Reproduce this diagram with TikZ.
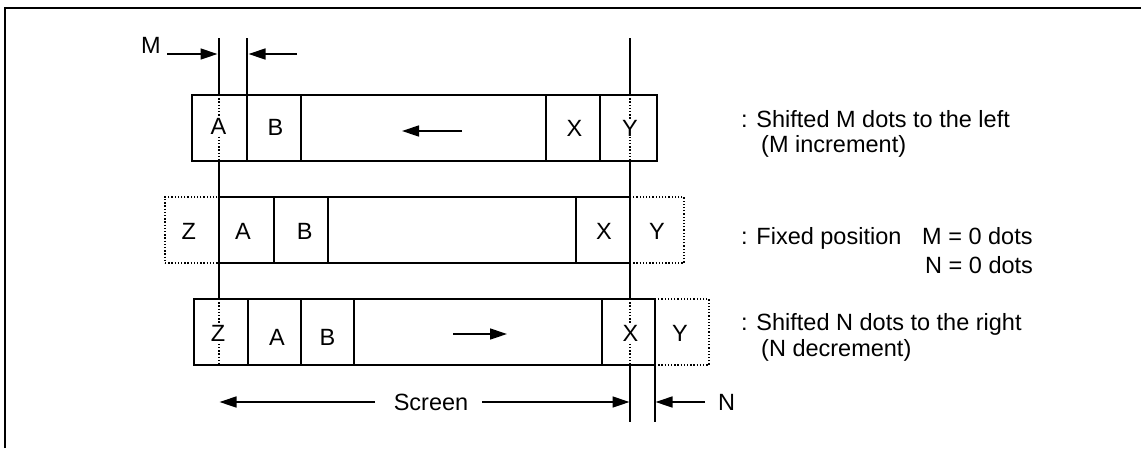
\documentclass[tikz,border=0pt]{standalone}
\usepackage{fontspec}
\setmainfont{Liberation Sans}
\usetikzlibrary{arrows.meta}
\begin{document}
\begin{tikzpicture}[x=1pt,y=-1pt,
  ln/.style={line width=1.4pt},
  dotl/.style={line width=1.3pt, dash pattern=on 1.3pt off 1.9pt},
  cell/.style={draw, line width=1.4pt, inner sep=0pt, minimum height=66pt},
  dcell/.style={cell, dotl},
  lbl/.style={font=\fontsize{23.5}{28}\selectfont, inner sep=0.6pt, fill=white},
  txt/.style={font=\fontsize{23.5}{28}\selectfont, inner sep=0pt, anchor=base west},
  arr/.style={ln, -{Triangle[length=17pt,width=11pt]}}]
\useasboundingbox (0,0) rectangle (1141,448);
% frame
\draw[line width=1.8pt] (5,448) -- (5,8) -- (1141,8);
% row 1
\node[cell, minimum width=55pt]  (r1a) at (219.5,128) {};
\node[cell, minimum width=54pt]  (r1b) at (274,128) {};
\node[cell, minimum width=245pt] (r1m) at (423.5,128) {};
\node[cell, minimum width=54pt]  (r1x) at (573,128) {};
\node[cell, minimum width=57pt]  (r1y) at (628.5,128) {};
% row 2
\node[dcell, minimum width=54pt] (r2z) at (192,230) {};
\node[cell, minimum width=55pt]  (r2a) at (246.5,230) {};
\node[cell, minimum width=54pt]  (r2b) at (301,230) {};
\node[cell, minimum width=248pt] (r2m) at (452,230) {};
\node[cell, minimum width=54pt]  (r2x) at (603,230) {};
\node[dcell, minimum width=54pt] (r2y) at (657,230) {};
% row 3
\node[cell, minimum width=54pt]  (r3z) at (221,332) {};
\node[cell, minimum width=53pt]  (r3a) at (274.5,332) {};
\node[cell, minimum width=53pt]  (r3b) at (327.5,332) {};
\node[cell, minimum width=248pt] (r3m) at (478,332) {};
\node[cell, minimum width=53pt]  (r3x) at (628.5,332) {};
\node[dcell, minimum width=54pt] (r3y) at (682,332) {};
% vertical reference lines
\coordinate (lt) at (219,38);
\coordinate (mt) at (247,38);
\coordinate (rt) at (630,38);
\coordinate (rb) at (630,422);
\coordinate (nb) at (655,422);
\draw[ln] (lt) -- (219,95);
\draw[dotl] (219,95) -- (219,161);
\draw[ln] (219,161) -- (219,299);
\draw[dotl] (219,299) -- (219,365);
\draw[ln] (mt) -- (247,95);
\draw[ln] (rt) -- (630,95);
\draw[dotl] (630,95) -- (630,161);
\draw[ln] (630,161) -- (630,299);
\draw[dotl] (630,299) -- (630,365);
\draw[ln] (630,365) -- (rb);
\draw[ln] (655,365) -- (nb);
% letters
\node[lbl] (l1a) at (218.5,126) {A};
\node[lbl] (l1b) at (275.5,127) {B};
\node[lbl] (l1x) at (574.5,128.5) {X};
\node[lbl] (l1y) at (630,128.5) {Y};
\node[lbl] (l2z) at (188.7,231.5) {Z};
\node[lbl] (l2a) at (243,231.5) {A};
\node[lbl] (l2b) at (304.6,231.5) {B};
\node[lbl] (l2x) at (604,231.5) {X};
\node[lbl] (l2y) at (657,231.5) {Y};
\node[lbl] (l3z) at (218,333) {Z};
\node[lbl] (l3a) at (277,337) {A};
\node[lbl] (l3b) at (327.5,337) {B};
\node[lbl] (l3x) at (630.5,333.5) {X};
\node[lbl] (l3y) at (680,333) {Y};
% shift arrows in middle cells
\coordinate (a1s) at (462,131);
\coordinate (a1e) at (402,131);
\coordinate (a3s) at (453,334);
\coordinate (a3e) at (507,334);
\draw[arr] (a1s) -- (a1e);
\draw[arr] (a3s) -- (a3e);
% M dimension
\node[txt] (mlab) at (141,53) {M};
\coordinate (m1s) at (167,54);
\coordinate (m1e) at (217.5,54);
\coordinate (m2s) at (297,54);
\coordinate (m2e) at (248.5,54);
\draw[arr] (m1s) -- (m1e);
\draw[arr] (m2s) -- (m2e);
% Screen and N dimension
\node[font=\fontsize{23.5}{28}\selectfont, inner sep=0pt, anchor=base] (scr) at (431,410.5) {Screen};
\coordinate (s1s) at (375,402);
\coordinate (s1e) at (219.5,402);
\coordinate (s2s) at (482,402);
\coordinate (s2e) at (629.5,402);
\draw[arr] (s1s) -- (s1e);
\draw[arr] (s2s) -- (s2e);
\node[txt] (nlab) at (718,410.5) {N};
\coordinate (n1s) at (705,402);
\coordinate (n1e) at (655.5,402);
\draw[arr] (n1s) -- (n1e);
% descriptions
\node[txt] (d1) at (741,127) {: Shifted M dots to the left};
\node[txt] (d1b) at (761,152) {(M increment)};
\node[txt] (d2) at (741,244) {: Fixed position};
\node[txt] (d2m) at (922,244) {M = 0 dots};
\node[txt] (d2n) at (925,273) {N = 0 dots};
\node[txt] (d3) at (741,330) {: Shifted N dots to the right};
\node[txt] (d3b) at (761,356) {(N decrement)};
\end{tikzpicture}
\end{document}
